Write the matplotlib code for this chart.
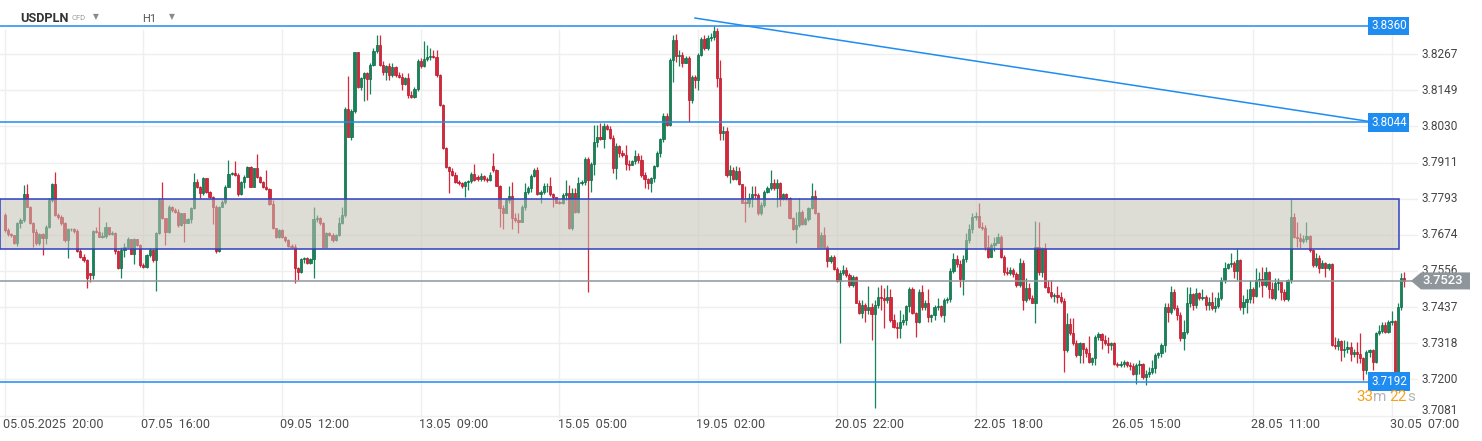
import matplotlib
matplotlib.use("Agg")
import matplotlib.pyplot as plt
import matplotlib.transforms as mtransforms
from matplotlib.patches import Rectangle, Polygon
import numpy as np

# ---------------- data (prices stored as 4-digit pips: 7739 -> 3.7739) ----------------
opens = [
    7739,7690,7677,7673,7648,7714,7723,7807,7767,7714,
    7685,7646,7677,7663,7701,7789,7841,7739,7734,7712,
    7657,7692,7692,7687,7622,7602,7592,7548,7542,7687,
    7685,7668,7670,7699,7677,7681,7621,7567,7624,7635,
    7659,7613,7659,7641,7575,7570,7608,7624,7592,7681,
    7789,7728,7685,7767,7756,7750,7706,7745,7714,7725,
    7761,7849,7830,7810,7860,7816,7797,7767,7622,7767,
    7783,7832,7874,7876,7871,7807,7849,7865,7898,7832,
    7893,7863,7849,7830,7824,7774,7696,7668,7690,7666,
    7657,7637,7633,7567,7553,7595,7597,7581,7594,7725,
    7728,7712,7633,7679,7674,7657,7674,7712,7739,8086,
    7997,8082,
    8274,8161,8188,8205,8185,8232,8278,8298,8232,8210,
    8227,8199,8225,8199,8194,8170,8188,8134,8128,8152,
    8245,8227,8251,8257,8260,8257,8199,8101,7958,7898,
    7885,7871,7849,7843,7833,7849,7852,7874,7863,7857,
    7868,7857,7854,7900,7887,7836,7761,7747,7789,7802,
    7728,7723,7718,7765,7816,7827,7868,7887,7808,7816,
    7833,7835,7808,7797,7780,7778,7805,7810,7696,7811,
    7750,7843,7849,7922,7854,7907,7980,7997,7988,8032,
    8021,7991,7893,7966,7942,7937,7907,7905,7918,7933,
    7920,7871,7857,7846,7860,7900,7944,7988,8065,8035,
    8249,8314,8260,8265,8240,8254,8117,8194,8181,8265,
    8316,
    8287,8320,8323,8342,8188,8010,8016,7871,7887,7857,
    7885,7840,7780,7778,7794,7808,7805,7745,7772,7816,
    7827,7843,7827,7843,7791,7808,7794,7728,7692,7707,
    7750,7710,7725,7761,7802,7745,7633,7674,7633,7589,
    7603,7561,7524,7550,7559,7542,7509,7537,7451,7419,
    7444,7427,7436,7416,7444,7469,7466,7460,7469,7395,
    7373,7367,7389,7395,7440,7495,7419,7389,7488,7438,
    7449,7405,7411,7438,7440,7411,7460,7462,7557,7594,
    7578,7528,7594,7657,7692,7734,7737,7699,7696,7635,
    7603,7641,7649,7666,7600,7553,7550,7559,7546,7509,
    7583,7460,7499,7466,7451,7633,7553,7630,7504,7488,
    7473,
    7477,7469,7458,7296,7381,7351,7320,7280,7318,7301,
    7285,7258,7269,7340,7349,7329,7318,7312,7320,7250,
    7247,7249,7258,7247,7244,7219,7247,7250,7206,7217,
    7225,7236,7280,7285,7312,7438,7422,7488,7433,7411,
    7334,7356,7449,7480,7444,7484,7466,7469,7444,7455,
    7433,7440,7466,7526,7567,7578,7583,7557,7592,7438,
    7455,7462,7495,7473,7526,7528,7509,7553,7495,7466,
    7515,7518,7488,7462,7526,7734,7668,7663,7655,7660,
    7671,7624,7575,7597,7567,7583,7564,7578,7312,7310,
    7327,7296,7301,7307,7283,7290,7283,7269,7230,7290,
    7295,7258,7353,7359,7378,7356,7389,7392,7208,7438,
    7531,
]
highs = [
    7745,7696,7681,7675,7717,7728,7838,7841,7769,7717,
    7692,7679,7680,7706,7794,7846,7879,7745,7739,7717,
    7696,7696,7696,7692,7627,7610,7594,7550,7690,7701,
    7767,7685,7717,7701,7688,7685,7624,7633,7646,7668,
    7662,7663,7661,7644,7583,7613,7630,7627,7685,7794,
    7847,7731,7772,7770,7761,7758,7747,7747,7728,7767,
    7878,7856,7835,7865,7862,7819,7802,7772,7769,7789,
    7838,7920,7882,7918,7878,7852,7871,7900,7900,7895,
    7940,7867,7852,7887,7827,7789,7698,7692,7692,7670,
    7659,7644,7644,7570,7597,7602,7600,7597,7767,7740,
    7732,7717,7685,7682,7679,7677,7734,7767,8095,8196,
    8086,8276,
    8276,8194,8210,8210,8238,8287,8331,8331,8246,8232,
    8238,8240,8229,8210,8205,8194,8205,8145,8161,8251,
    8254,8312,8298,8287,8281,8281,8202,8103,7962,7900,
    7893,7882,7854,7849,7852,7854,7882,7907,7870,7877,
    7871,7865,7879,7942,7889,7838,7772,7794,7833,7847,
    7745,7747,7772,7843,7833,7874,7893,7898,7822,7843,
    7843,7865,7811,7800,7789,7811,7854,7838,7827,7827,
    7865,7854,7931,7931,7915,8035,8035,8041,8041,8038,
    8032,8002,7975,7969,7953,7969,7920,7920,7953,7942,
    7937,7882,7860,7865,7904,7948,7991,8073,8073,8254,
    8331,8334,8281,8276,8260,8260,8199,8199,8270,8325,
    8331,
    8331,8336,8360,8353,8249,8030,8027,7904,7898,7900,
    7898,7842,7833,7811,7833,7833,7811,7783,7820,7833,
    7887,7857,7857,7849,7813,7811,7800,7734,7750,7794,
    7756,7734,7767,7843,7822,7750,7685,7701,7641,7608,
    7608,7570,7559,7575,7570,7548,7542,7540,7460,7460,
    7451,7506,7449,7460,7504,7509,7499,7509,7495,7416,
    7389,7427,7416,7444,7504,7504,7422,7495,7509,7460,
    7495,7416,7444,7466,7444,7466,7471,7564,7614,7608,
    7592,7608,7679,7710,7745,7750,7778,7715,7707,7674,
    7646,7668,7679,7674,7608,7570,7570,7564,7553,7597,
    7592,7531,7515,7477,7721,7715,7633,7646,7526,7526,
    7482,
    7506,7488,7466,7419,7400,7400,7329,7323,7320,7307,
    7342,7274,7345,7356,7351,7345,7340,7323,7323,7258,
    7261,7264,7261,7258,7254,7252,7264,7252,7230,7241,
    7264,7285,7290,7318,7449,7449,7506,7495,7444,7422,
    7395,7504,7504,7484,7499,7488,7495,7477,7471,7488,
    7470,7488,7537,7586,7583,7614,7589,7627,7594,7477,
    7495,7526,7504,7564,7553,7570,7570,7555,7520,7531,
    7531,7520,7498,7528,7791,7745,7718,7679,7674,7715,
    7674,7627,7614,7608,7592,7586,7583,7583,7340,7334,
    7329,7329,7327,7323,7301,7323,7351,7272,7296,7301,
    7300,7356,7378,7389,7389,7395,7425,7395,7451,7548,
    7553,
]
lows = [
    7685,7670,7666,7644,7637,7696,7717,7765,7710,7635,
    7641,7641,7608,7644,7696,7783,7736,7725,7706,7652,
    7597,7688,7681,7619,7597,7586,7501,7520,7528,7679,
    7666,7663,7665,7674,7674,7613,7561,7531,7600,7630,
    7610,7577,7637,7570,7564,7567,7600,7586,7491,7677,
    7725,7641,7680,7750,7745,7701,7703,7652,7712,7714,
    7758,7827,7794,7805,7813,7794,7709,7616,7619,7765,
    7774,7830,7871,7867,7802,7805,7827,7863,7830,7830,
    7860,7846,7827,7821,7771,7692,7663,7665,7663,7652,
    7633,7630,7515,7526,7550,7581,7578,7578,7531,7715,
    7706,7630,7630,7670,7652,7655,7670,7710,7734,7994,
    7986,8075,
    8156,8150,8115,8117,8137,8227,8270,8227,8199,8183,
    8183,8192,8194,8188,8150,8167,8123,8123,8125,8145,
    8221,8225,8246,8249,8254,8194,8098,7955,7895,7811,
    7868,7843,7838,7827,7800,7822,7846,7852,7852,7852,
    7852,7849,7851,7882,7833,7699,7692,7745,7780,7692,
    7718,7679,7715,7756,7808,7816,7863,7805,7778,7808,
    7816,7802,7767,7778,7776,7776,7789,7692,7690,7745,
    7745,7838,7838,7488,7816,7871,7962,7985,7958,8018,
    7988,7876,7857,7931,7931,7887,7887,7902,7907,7911,
    7865,7827,7824,7816,7849,7896,7931,7980,8030,8032,
    8177,8243,8227,8225,8238,8046,8106,8156,8150,8260,
    8281,
    8281,8312,8314,8158,7986,7986,7865,7843,7854,7854,
    7838,7778,7718,7767,7767,7794,7739,7739,7767,7811,
    7822,7822,7767,7769,7789,7789,7725,7690,7646,7701,
    7707,7706,7720,7758,7743,7630,7630,7630,7570,7581,
    7559,7520,7318,7542,7537,7504,7504,7449,7416,7400,
    7389,7416,7329,7106,7433,7427,7367,7449,7389,7367,
    7334,7334,7378,7378,7422,7416,7340,7385,7427,7427,
    7389,7389,7395,7427,7405,7389,7449,7455,7548,7570,
    7504,7477,7586,7649,7679,7723,7696,7690,7624,7597,
    7600,7622,7646,7597,7542,7542,7542,7537,7504,7504,
    7427,7455,7460,7449,7384,7542,7537,7499,7482,7466,
    7455,
    7449,7451,7225,7290,7345,7312,7274,7252,7252,7274,
    7252,7247,7247,7329,7301,7312,7287,7296,7247,7241,
    7241,7241,7241,7230,7214,7186,7217,7200,7181,7206,
    7217,7222,7269,7274,7290,7389,7416,7427,7395,7327,
    7296,7350,7438,7427,7433,7460,7460,7427,7427,7427,
    7422,7435,7460,7515,7561,7570,7531,7526,7427,7416,
    7419,7449,7449,7471,7504,7471,7504,7466,7462,7460,
    7493,7460,7458,7458,7515,7663,7635,7630,7646,7652,
    7619,7570,7570,7548,7564,7537,7559,7308,7301,7296,
    7261,7274,7285,7261,7274,7252,7252,7198,7219,7274,
    7230,7252,7345,7351,7352,7351,7378,7205,7205,7427,
    7504,
]
closes = [
    7690,7677,7673,7648,7714,7723,7807,7767,7714,7685,
    7646,7677,7663,7701,7789,7841,7739,7734,7712,7657,
    7692,7692,7687,7622,7602,7592,7531,7542,7687,7685,
    7668,7670,7699,7677,7681,7621,7567,7624,7635,7659,
    7613,7659,7641,7575,7570,7608,7624,7592,7681,7789,
    7728,7685,7767,7756,7750,7706,7745,7714,7725,7761,
    7849,7830,7810,7860,7816,7797,7767,7622,7767,7783,
    7832,7874,7876,7871,7807,7849,7865,7898,7832,7893,
    7863,7849,7830,7824,7774,7696,7668,7690,7666,7657,
    7637,7633,7567,7553,7595,7597,7581,7594,7725,7728,
    7712,7633,7679,7674,7657,7674,7712,7739,8086,7997,
    8082,8274,
    8161,8188,8205,8185,8232,8278,8298,8232,8210,8227,
    8199,8225,8199,8194,8170,8188,8134,8128,8152,8245,
    8227,8251,8257,8260,8257,8199,8101,7958,7898,7885,
    7871,7849,7843,7833,7849,7852,7874,7854,7857,7868,
    7857,7854,7871,7887,7836,7761,7747,7789,7802,7728,
    7723,7718,7765,7816,7827,7868,7887,7808,7816,7833,
    7835,7808,7797,7780,7778,7805,7810,7696,7811,7750,
    7843,7849,7922,7854,7907,7980,7997,7988,8032,8021,
    7991,7893,7966,7942,7937,7907,7905,7918,7933,7920,
    7871,7857,7846,7860,7900,7944,7988,8065,8035,8249,
    8314,8260,8265,8240,8254,8117,8194,8181,8265,8316,
    8287,
    8320,8323,8342,8188,8010,8016,7871,7887,7857,7885,
    7840,7780,7778,7794,7808,7805,7745,7772,7816,7827,
    7843,7827,7843,7791,7808,7794,7728,7692,7707,7750,
    7710,7725,7761,7802,7745,7633,7674,7633,7589,7603,
    7561,7524,7550,7559,7542,7509,7537,7451,7419,7444,
    7427,7436,7416,7444,7469,7466,7460,7469,7395,7373,
    7367,7389,7395,7440,7495,7419,7389,7488,7438,7449,
    7405,7411,7438,7440,7411,7460,7462,7557,7594,7578,
    7528,7594,7657,7692,7734,7737,7699,7696,7635,7603,
    7641,7649,7666,7600,7553,7550,7559,7546,7509,7583,
    7460,7499,7466,7451,7633,7553,7630,7504,7488,7473,
    7477,
    7469,7458,7296,7381,7351,7320,7280,7318,7301,7285,
    7258,7269,7340,7349,7329,7318,7312,7320,7250,7247,
    7249,7258,7247,7244,7219,7247,7250,7206,7217,7225,
    7236,7280,7285,7312,7438,7422,7488,7433,7411,7334,
    7356,7449,7480,7444,7484,7466,7469,7444,7455,7433,
    7440,7466,7526,7567,7578,7583,7557,7592,7438,7455,
    7462,7495,7473,7526,7528,7509,7553,7495,7466,7515,
    7518,7488,7462,7526,7734,7668,7663,7655,7660,7671,
    7624,7575,7597,7567,7583,7564,7578,7312,7310,7327,
    7296,7301,7307,7283,7290,7283,7269,7230,7290,7295,
    7258,7353,7359,7378,7356,7389,7392,7208,7438,7531,
    7523,
]

x_tick_labels = ["05.05.2025  20:00", "07.05  16:00", "09.05  12:00", "13.05  09:00",
                 "15.05  05:00", "19.05  02:00", "20.05  22:00", "22.05  18:00",
                 "26.05  15:00", "28.05  11:00", "30.05  07:00"]
candles_per_tick = 44
y_ticks = [3.7081, 3.7200, 3.7318, 3.7437, 3.7556, 3.7674, 3.7793, 3.7911, 3.8030, 3.8149, 3.8267]

level_lines = [3.8360, 3.8044, 3.7192]
zone_low, zone_high = 3.7628, 3.7793
trend_start = (219.0, 3.8386)
trend_end = (433.2, 3.8046)
last_price = 3.7523
countdown = [("33", "#f5a01a"), ("m", "#b5b5b5"), ("22", "#f5a01a"), ("s", "#b5b5b5")]

# ---------------- figure ----------------
o = 3 + np.array(opens) / 10000.0
h = 3 + np.array(highs) / 10000.0
l = 3 + np.array(lows) / 10000.0
c = 3 + np.array(closes) / 10000.0
n = len(o)
x = np.arange(n)

W, H = 1482, 441
fig = plt.figure(figsize=(W / 100, H / 100), dpi=100)
fig.patch.set_facecolor("white")
ax_right_px, ax_bottom_px = 1418, 418
ax = fig.add_axes([0, (H - ax_bottom_px) / H, ax_right_px / W, ax_bottom_px / H])
px_per_candle = 3.152
x0_px = 4.7
ax.set_xlim(-x0_px / px_per_candle, (ax_right_px - x0_px) / px_per_candle)
ppu = 3046.0
ax.set_ylim(3.72 - (ax_bottom_px - 379.3) / ppu, 3.72 + 379.3 / ppu)
ax.axis("off")

# grid
for p in y_ticks:
    ax.axhline(p, color="#efefef", lw=1.0, zorder=0)
for k in range(len(x_tick_labels)):
    ax.axvline(k * candles_per_tick, ymin=0, ymax=(ax_bottom_px - 30) / ax_bottom_px,
               color="#efefef", lw=1.0, zorder=0)

# candles
up = c >= o
green, green_e = "#16845a", "#0d6b45"
red, red_e = "#d92638", "#b3172a"
col = np.where(up, green, red)
ecol = np.where(up, green_e, red_e)
ax.vlines(x, l, h, colors=col, lw=0.9, zorder=2)
body = np.abs(c - o)
body = np.maximum(body, 0.00025)
ax.bar(x, body, bottom=np.minimum(o, c), width=0.7, color=col, edgecolor=ecol,
       linewidth=0.5, zorder=2.5)

# zone
xl = ax.get_xlim()[0]
zone_right = (1399 - x0_px) / px_per_candle
ax.add_patch(Rectangle((xl, zone_low), zone_right - xl, zone_high - zone_low,
                       facecolor=(0.765, 0.757, 0.705, 0.55), edgecolor="none", zorder=3))
ax.add_patch(Rectangle((xl, zone_low), zone_right - xl, zone_high - zone_low,
                       facecolor="none", edgecolor="#3040c0", lw=1.1, zorder=3.1))

# level lines
blue = "#1e8cf0"
label_x = (1370 - x0_px) / px_per_candle
for p in level_lines:
    ax.plot([xl, label_x], [p, p], color=blue, lw=1.1, zorder=4, solid_capstyle="butt")
    ax.text(label_x + 0.3, p, f"{p:.4f}", ha="left", va="center", color="white",
            fontsize=8.4, family="Roboto", zorder=6,
            bbox=dict(boxstyle="square,pad=0.24", fc=blue, ec="none"))
ax.plot([trend_start[0], trend_end[0]], [trend_start[1], trend_end[1]], color=blue,
        lw=1.1, zorder=4)

# last price line
ax.axhline(last_price, color="#8e969b", lw=1.1, zorder=4)

# right axis labels
ytr = ax.get_yaxis_transform()
for p in y_ticks:
    yy = p
    if p == y_ticks[0]:
        yy = p + 5.5 / ppu
    ax.text(1 + 4 / ax_right_px, yy, f"{p:.4f}", transform=ytr, ha="left", va="center",
            fontsize=8.6, color="#454545", family="Roboto", clip_on=False, zorder=5)

# last price label (arrow box drawn over the axis labels)
bt = mtransforms.blended_transform_factory(fig.transFigure, ax.transData)
hh = 8.5 / ppu
poly = Polygon([(1411 / W, last_price), (1421 / W, last_price + hh), (1470 / W, last_price + hh),
                (1470 / W, last_price - hh), (1421 / W, last_price - hh)],
               closed=True, transform=bt, facecolor="#8e969b", edgecolor="none",
               clip_on=False, zorder=7)
ax.add_patch(poly)
ax.text(1 + 4 / ax_right_px, last_price, f"{last_price:.4f}", transform=ytr, ha="left",
        va="center", fontsize=9.4, color="white", family="Roboto", weight="medium",
        clip_on=False, zorder=8)

# x labels
xtr = ax.get_xaxis_transform()
for k, lab in enumerate(x_tick_labels):
    ax.text(k * candles_per_tick - 0.6, -(424 - ax_bottom_px) / ax_bottom_px, lab,
            transform=xtr, ha="left", va="center", fontsize=9.0, color="#4a4a4a",
            family=["Liberation Sans Narrow", "Roboto"], clip_on=False)

# header
fig.text(20 / W, 1 - 18 / H, "USDPLN", ha="left", va="center", fontsize=9.2,
         weight="bold", color="#333333", family="Roboto")
fig.text(72 / W, 1 - 18 / H, "CFD", ha="left", va="center", fontsize=5.5,
         color="#9a9a9a", family="Roboto")
fig.text(93 / W, 1 - 17 / H, "\u25BC", ha="left", va="center", fontsize=5.5, color="#8a8a8a",
         family="DejaVu Sans")
fig.text(142 / W, 1 - 19 / H, "H1", ha="left", va="center", fontsize=8.0,
         color="#555555", family="Roboto")
fig.text(169 / W, 1 - 17 / H, "\u25BC", ha="left", va="center", fontsize=5.5, color="#8a8a8a",
         family="DejaVu Sans")

# countdown
fig.canvas.draw()
r = fig.canvas.get_renderer()
xpos = 1356
for s, colr in countdown:
    t = fig.text(xpos / W, 1 - 397 / H, s, ha="left", va="center", fontsize=11,
                 color=colr, family="Roboto")
    bb = t.get_window_extent(renderer=r)
    xpos += bb.width + (3 if s == "m" else 0)

fig.savefig("out.png", dpi=100, facecolor="white")
